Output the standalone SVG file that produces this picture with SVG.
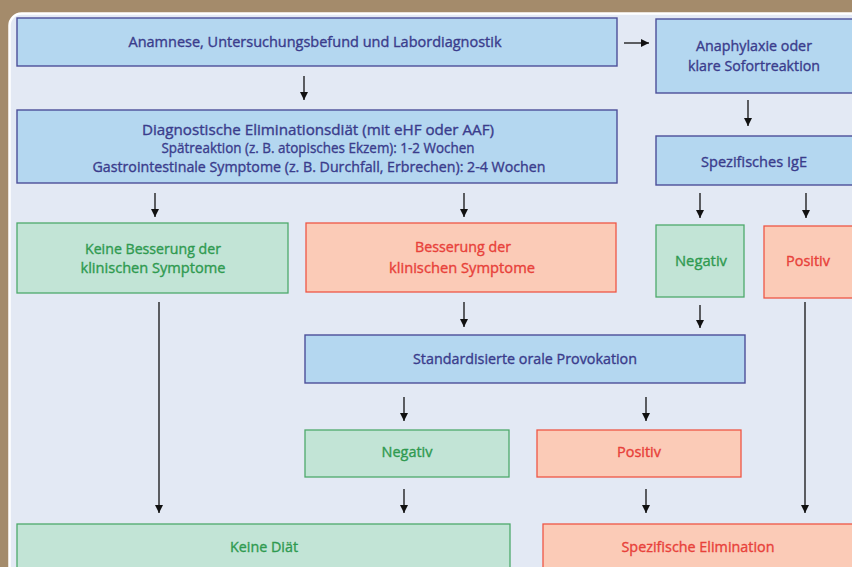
<svg xmlns="http://www.w3.org/2000/svg" width="852" height="567" viewBox="0 0 852 567">
  <defs>
    <marker id="ah" viewBox="0 0 10 10" refX="10" refY="5" markerWidth="8" markerHeight="9" markerUnits="userSpaceOnUse" orient="auto">
      <path d="M0,0 L10,5 L0,10 z" fill="#111"/>
    </marker>
    <style>
      .blue rect { fill: #b4d7f0; stroke: #4c4f99; stroke-width: 1.4; }
      .blue text { fill: #3a3c8c; stroke: #3a3c8c; }
      .green rect { fill: #c2e4d6; stroke: #4ea96c; stroke-width: 1.3; }
      .green text { fill: #2f9a50; stroke: #2f9a50; }
      .red rect { fill: #fbcbb7; stroke: #ee5646; stroke-width: 1.3; }
      .red text { fill: #e8413a; stroke: #e8413a; }
      text { font-family: "Open Sans", "Liberation Sans", sans-serif; font-size: 14px; font-weight: 400; stroke-width: 0.35; text-anchor: middle; dominant-baseline: central; }
      #connectors line { stroke: #111; stroke-width: 1.3; marker-end: url(#ah); }
    </style>
  </defs>
  <rect x="0" y="0" width="852" height="567" fill="#a48b6b"/>
  <rect x="9.5" y="13.5" width="870" height="570" rx="12" fill="#e3e9f4" stroke="#ffffff" stroke-width="2.5"/>

  <g id="n_anamnese" class="blue">
    <rect x="17" y="18" width="600" height="48"/>
    <text x="315" y="41" textLength="373" lengthAdjust="spacingAndGlyphs">Anamnese, Untersuchungsbefund und Labordiagnostik</text>
  </g>
  <g id="n_anaphylaxie" class="blue">
    <rect x="656" y="19" width="200" height="74"/>
    <text x="754" y="45" textLength="116" lengthAdjust="spacingAndGlyphs">Anaphylaxie oder</text>
    <text x="754" y="65" textLength="132" lengthAdjust="spacingAndGlyphs">klare Sofortreaktion</text>
  </g>
  <g id="n_diagnostische" class="blue">
    <rect x="17" y="110" width="600" height="73"/>
    <text x="318" y="129" textLength="352" lengthAdjust="spacingAndGlyphs">Diagnostische Eliminationsdiät (mit eHF oder AAF)</text>
    <text x="318" y="147" textLength="313" lengthAdjust="spacingAndGlyphs">Spätreaktion (z. B. atopisches Ekzem): 1-2 Wochen</text>
    <text x="319" y="166" textLength="453" lengthAdjust="spacingAndGlyphs">Gastrointestinale Symptome (z. B. Durchfall, Erbrechen): 2-4 Wochen</text>
  </g>
  <g id="n_ige" class="blue">
    <rect x="656" y="136" width="200" height="49"/>
    <text x="754" y="161" textLength="106" lengthAdjust="spacingAndGlyphs">Spezifisches IgE</text>
  </g>
  <g id="n_keinebesserung" class="green">
    <rect x="17" y="223" width="271" height="70"/>
    <text x="153" y="248" textLength="136" lengthAdjust="spacingAndGlyphs">Keine Besserung der</text>
    <text x="153" y="267" textLength="145" lengthAdjust="spacingAndGlyphs">klinischen Symptome</text>
  </g>
  <g id="n_besserung" class="red">
    <rect x="306" y="223" width="310" height="69"/>
    <text x="463" y="246" textLength="96" lengthAdjust="spacingAndGlyphs">Besserung der</text>
    <text x="462" y="267" textLength="146" lengthAdjust="spacingAndGlyphs">klinischen Symptome</text>
  </g>
  <g id="n_ige_negativ" class="green">
    <rect x="656" y="225" width="88" height="72"/>
    <text x="701" y="260" textLength="52" lengthAdjust="spacingAndGlyphs">Negativ</text>
  </g>
  <g id="n_ige_positiv" class="red">
    <rect x="764" y="226" width="92" height="72"/>
    <text x="808" y="260" textLength="44" lengthAdjust="spacingAndGlyphs">Positiv</text>
  </g>
  <g id="n_provokation" class="blue">
    <rect x="305" y="335" width="440" height="48"/>
    <text x="525" y="358" textLength="224" lengthAdjust="spacingAndGlyphs">Standardisierte orale Provokation</text>
  </g>
  <g id="n_prov_negativ" class="green">
    <rect x="305" y="430" width="204" height="47"/>
    <text x="407" y="451" textLength="51" lengthAdjust="spacingAndGlyphs">Negativ</text>
  </g>
  <g id="n_prov_positiv" class="red">
    <rect x="537" y="430" width="204" height="47"/>
    <text x="639" y="451" textLength="44" lengthAdjust="spacingAndGlyphs">Positiv</text>
  </g>
  <g id="n_keinediaet" class="green">
    <rect x="17" y="524" width="493" height="50"/>
    <text x="264" y="546" textLength="68" lengthAdjust="spacingAndGlyphs">Keine Diät</text>
  </g>
  <g id="n_elimination" class="red">
    <rect x="543" y="524" width="313" height="50"/>
    <text x="698" y="546" textLength="153" lengthAdjust="spacingAndGlyphs">Spezifische Elimination</text>
  </g>

  <g id="connectors">
    <line x1="624" y1="43" x2="649" y2="43"/>
    <line x1="304" y1="76" x2="304" y2="100"/>
    <line x1="748" y1="100" x2="748" y2="126"/>
    <line x1="155" y1="193" x2="155" y2="217"/>
    <line x1="464" y1="193" x2="464" y2="217"/>
    <line x1="700" y1="193" x2="700" y2="218"/>
    <line x1="806" y1="193" x2="806" y2="218"/>
    <line x1="159" y1="302" x2="159" y2="513"/>
    <line x1="464" y1="302" x2="464" y2="327"/>
    <line x1="700" y1="305" x2="700" y2="328"/>
    <line x1="805" y1="302" x2="805" y2="513"/>
    <line x1="404" y1="397" x2="404" y2="421"/>
    <line x1="646" y1="397" x2="646" y2="421"/>
    <line x1="404" y1="489" x2="404" y2="513"/>
    <line x1="646" y1="489" x2="646" y2="513"/>
  </g>
</svg>
